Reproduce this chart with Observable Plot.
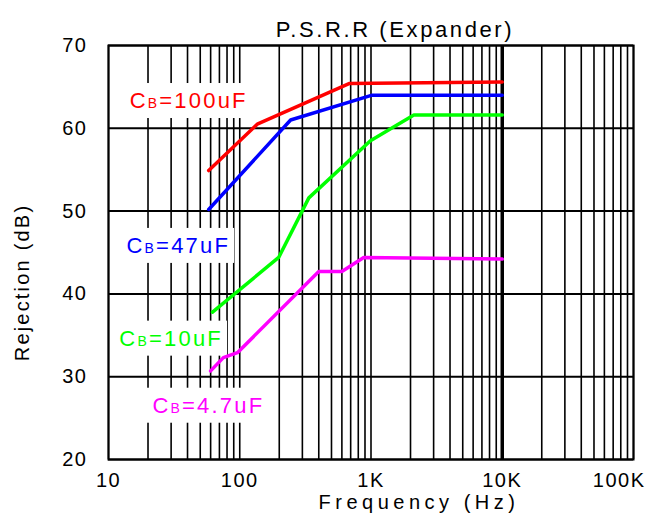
<!DOCTYPE html>
<html><head><meta charset="utf-8">
<script src="https://cdn.jsdelivr.net/npm/d3@7"></script>
<script src="https://cdn.jsdelivr.net/npm/@observablehq/plot@0.6"></script>
<style>
body{margin:0;background:#fff;}
svg{font-family:"Liberation Sans",Arial,sans-serif;}
g[aria-description="cb-labels"] text{letter-spacing:2.2px;}
g[aria-label="x-axis tick label"] text, g[aria-label="y-axis tick label"] text, g[aria-description="xtick-last"] text{letter-spacing:1.5px;}
g[aria-description="title"] text{letter-spacing:2.6px;}
g[aria-description="xlabel"] text{letter-spacing:4.5px;}
g[aria-description="ylabel"] text{letter-spacing:2.2px;}
</style>
</head><body><div id="chart"></div>
<script>
// Series data (frequency in Hz, rejection in dB)
const series = ["100uF","47uF","10uF","4.7uF"];
const colors = ["#ff0000","#0000ff","#00ff00","#ff00ff"];
const freq100 = [58, 136, 680, 10000];
const rej100  = [54.9, 60.5, 65.4, 65.6];
const freq47  = [58, 244, 1020, 10000];
const rej47   = [50.2, 61.0, 64.0, 64.0];
const freq10  = [62, 198, 336, 990, 2120, 10000];
const rej10   = [37.8, 44.4, 51.6, 58.5, 61.6, 61.6];
const freq4p7 = [60, 75, 96, 400, 600, 880, 10000];
const rej4p7  = [30.7, 32.3, 32.9, 42.7, 42.7, 44.4, 44.2];

// Labels
const labelText = ["CB=100uF","CB=47uF","CB=10uF","CB=4.7uF"];
const labelFreq = [14.5, 13.7, 12.1, 21.6];
const labelDb   = [63.3, 45.8, 34.6, 26.5];

// Ticks
const xTicks = [10, 100, 1000, 10000, 100000];
const xTickLabels = ["10","100","1K","10K","100K"];
const yTicks = [20, 30, 40, 50, 60, 70];

const freqs = [freq100, freq47, freq10, freq4p7];
const rejs = [rej100, rej47, rej10, rej4p7];
const rows = [];
freqs.forEach((fs, i) => fs.forEach((f, j) => rows.push({s: series[i], c: colors[i], f, db: rejs[i][j]})));
const labels = labelText.map((t, i) => ({t, c: colors[i], f: labelFreq[i], db: labelDb[i]}));

// log grid lines
const gridX = [];
for (let d = 10; d < 100000; d *= 10) for (let m = 1; m < 10; m++) gridX.push(d * m);
gridX.push(100000);

const tickFmt = new Map(xTicks.map((t, i) => [t, xTickLabels[i]]));

const plot = Plot.plot({
  width: 653, height: 523,
  marginLeft: 108, marginRight: 20, marginTop: 45, marginBottom: 64,
  x: {type: "log", domain: [10, 100000]},
  y: {domain: [20, 70]},
  style: {background: "white", fontFamily: "'Liberation Sans', Arial, sans-serif", color: "black"},
  marks: [
    Plot.ruleX(gridX, {stroke: "black", strokeWidth: 1.6}),
    Plot.ruleX([10000], {stroke: "black", strokeWidth: 3.5}),
    Plot.ruleY(yTicks, {stroke: "black", strokeWidth: 2}),
    Plot.text(labels, {x: "f", y: "db", text: "t", fill: "c", textAnchor: "start", fontSize: 22, ariaDescription: "cb-labels"}),
    Plot.line(rows, {x: "f", y: "db", z: "s", stroke: "c", strokeWidth: 3.5, strokeLinejoin: "miter"}),
    Plot.frame({stroke: "black", strokeWidth: 2}),
    Plot.axisX(xTicks.slice(0, 4), {tickSize: 0, tickPadding: 13, fontSize: 20, tickFormat: d => tickFmt.get(d), label: null}),
    Plot.text([xTicks[4]], {x: d => d, frameAnchor: "bottom", text: d => tickFmt.get(d), textAnchor: "end", lineAnchor: "top", dx: 12, dy: 13, fontSize: 20, ariaDescription: "xtick-last"}),
    Plot.axisY(yTicks, {tickSize: 0, tickPadding: 21, fontSize: 20, label: null}),
    Plot.text(["P.S.R.R (Expander)"], {frameAnchor: "top", dy: -24, dx: 24, fontSize: 22, ariaDescription: "title"}),
    Plot.text(["Frequency (Hz)"], {frameAnchor: "bottom", dy: 49, dx: 48, fontSize: 20, ariaDescription: "xlabel"}),
    Plot.text(["Rejection (dB)"], {frameAnchor: "left", textAnchor: "middle", rotate: -90, dx: -86, dy: 30, fontSize: 20, ariaDescription: "ylabel"})
  ]
});
document.getElementById("chart").appendChild(plot);

// Label post-processing: small "B" and white background boxes
const ns = "http://www.w3.org/2000/svg";
plot.querySelectorAll('g[aria-description="cb-labels"] text').forEach(t => {
  const s = t.textContent;
  t.textContent = "";
  t.appendChild(document.createTextNode(s.slice(0, 1)));
  const sp = document.createElementNS(ns, "tspan");
  sp.setAttribute("font-size", "14");
  sp.textContent = s.slice(1, 2);
  t.appendChild(sp);
  t.appendChild(document.createTextNode(s.slice(2)));
  const b = t.getBBox();
  const r = document.createElementNS(ns, "rect");
  r.setAttribute("x", b.x - 8);
  r.setAttribute("y", b.y - 5);
  r.setAttribute("width", b.width + 12);
  r.setAttribute("height", b.height + 10);
  r.setAttribute("fill", "white");
  const tr = t.getAttribute("transform");
  if (tr) r.setAttribute("transform", tr);
  t.parentNode.insertBefore(r, t);
});
</script>
</body></html>
